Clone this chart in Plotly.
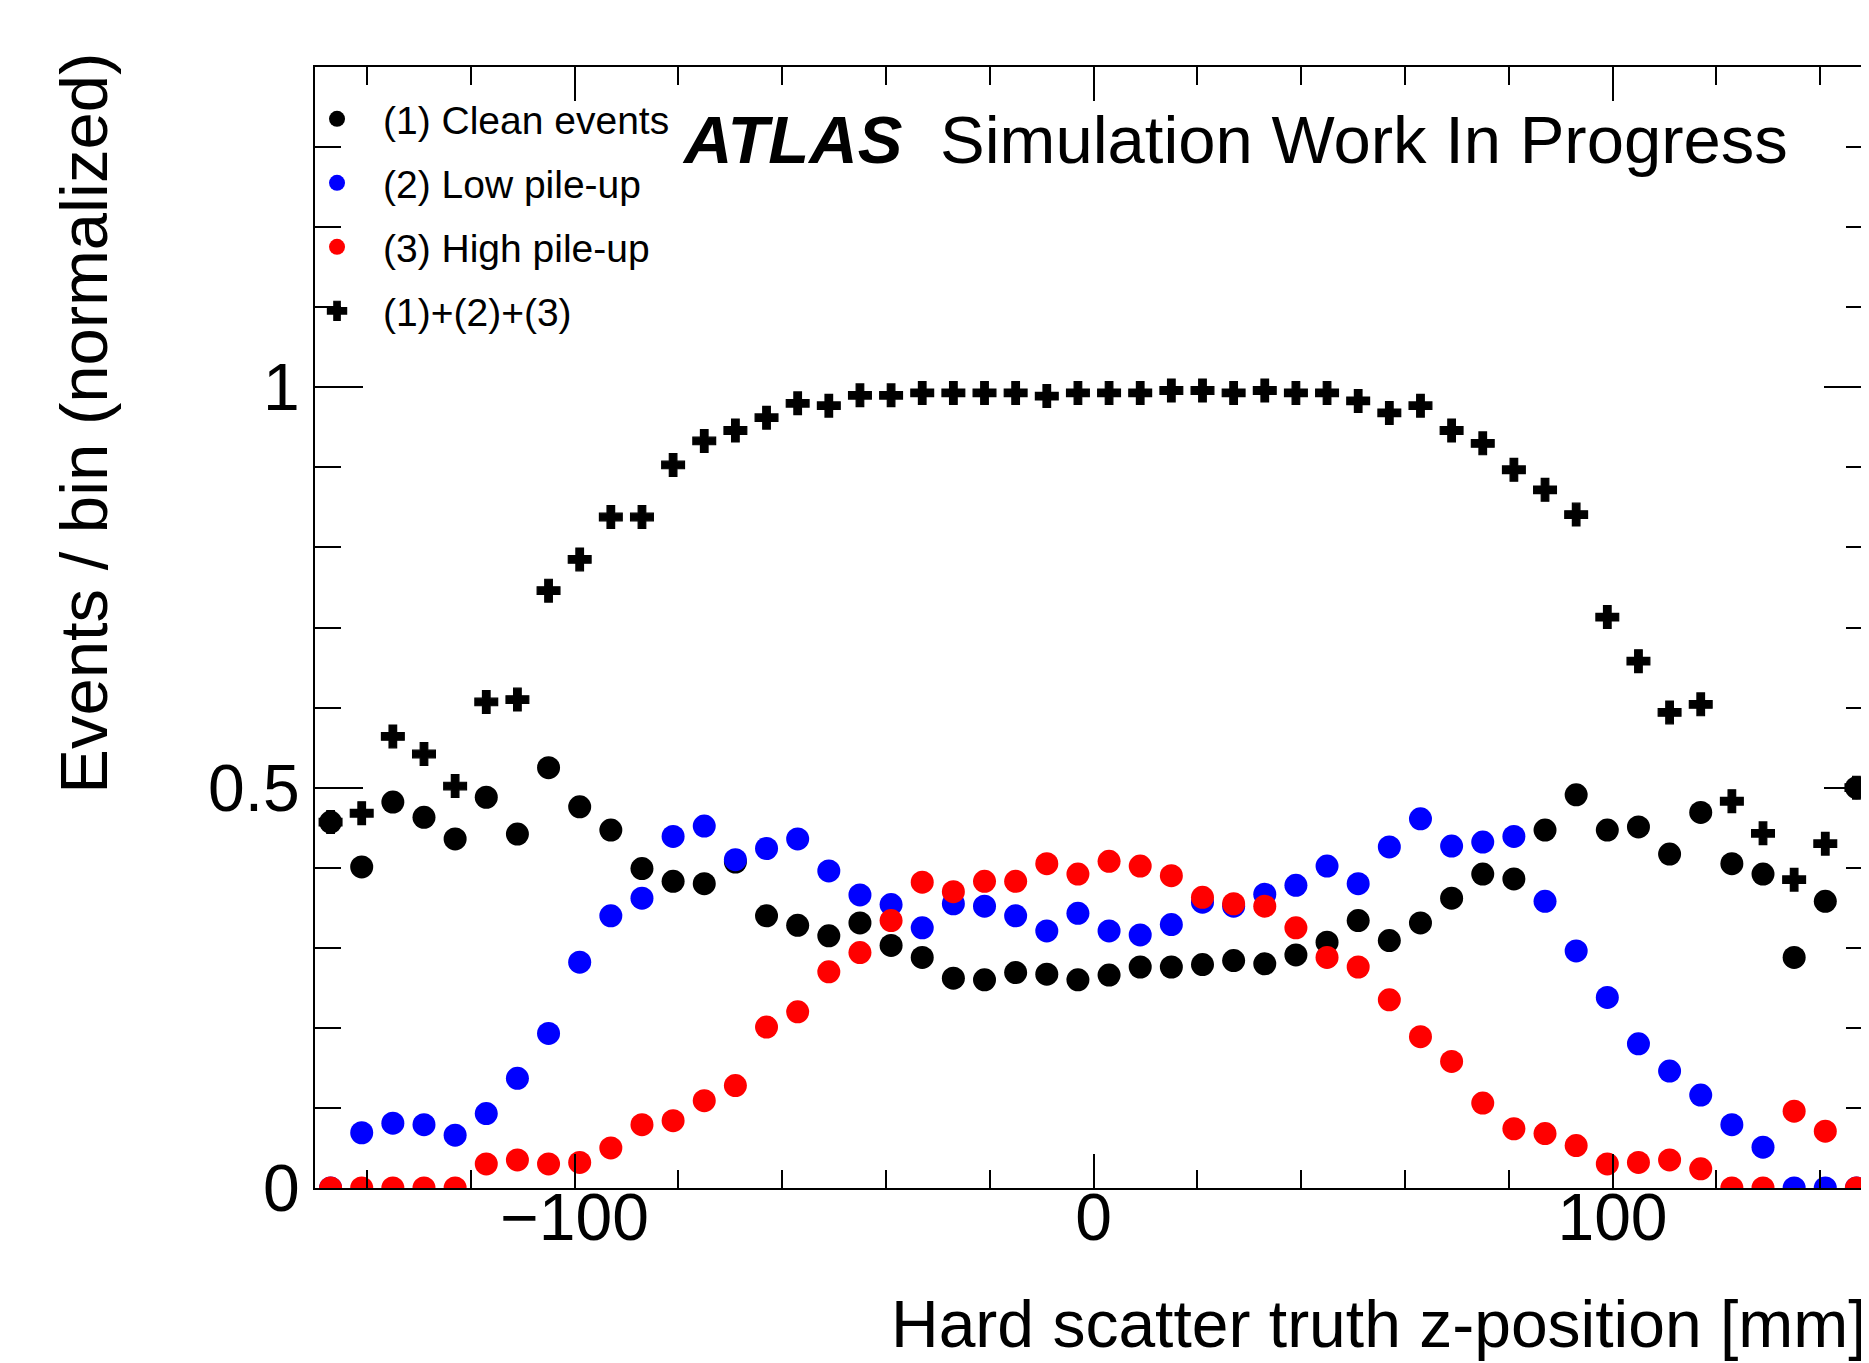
import plotly.graph_objects as go

# Bin centres of the hard-scatter truth z-position histogram [mm]
z_centres = [-147, -141, -135, -129, -123, -117, -111, -105, -99, -93,
             -87, -81, -75, -69, -63, -57, -51, -45, -39, -33,
             -27, -21, -15, -9, -3, 3, 9, 15, 21, 27,
             33, 39, 45, 51, 57, 63, 69, 75, 81, 87,
             93, 99, 105, 111, 117, 123, 129, 135, 141, 147]

clean_events = [0.457, 0.401, 0.482, 0.463, 0.436, 0.488, 0.442, 0.525, 0.476, 0.447,
                0.399, 0.383, 0.380, 0.407, 0.340, 0.328, 0.315, 0.331, 0.303, 0.288,
                0.262, 0.260, 0.269, 0.267, 0.260, 0.266, 0.276, 0.276, 0.279, 0.284,
                0.280, 0.291, 0.307, 0.334, 0.309, 0.331, 0.362, 0.392, 0.386, 0.447,
                0.491, 0.447, 0.451, 0.417, 0.469, 0.405, 0.392, 0.288, 0.358, 0.500]

low_pileup = [0.000, 0.069, 0.081, 0.079, 0.066, 0.093, 0.137, 0.193, 0.282, 0.340,
              0.362, 0.439, 0.452, 0.410, 0.424, 0.436, 0.396, 0.366, 0.354, 0.325,
              0.355, 0.352, 0.340, 0.321, 0.343, 0.321, 0.316, 0.329, 0.357, 0.352,
              0.367, 0.378, 0.402, 0.380, 0.426, 0.461, 0.427, 0.432, 0.439, 0.358,
              0.296, 0.238, 0.180, 0.146, 0.116, 0.079, 0.051, 0.000, 0.000, 0.000]

high_pileup = [0.000, 0.000, 0.000, 0.000, 0.000, 0.030, 0.035, 0.030, 0.032, 0.050,
               0.079, 0.084, 0.109, 0.128, 0.201, 0.220, 0.270, 0.294, 0.334, 0.382,
               0.370, 0.383, 0.383, 0.405, 0.392, 0.408, 0.402, 0.390, 0.363, 0.355,
               0.352, 0.325, 0.288, 0.276, 0.235, 0.189, 0.158, 0.106, 0.074, 0.068,
               0.053, 0.030, 0.032, 0.035, 0.024, 0.000, 0.000, 0.096, 0.071, 0.000]

combined = [0.457, 0.468, 0.564, 0.542, 0.502, 0.607, 0.610, 0.746, 0.785, 0.838,
            0.838, 0.903, 0.933, 0.946, 0.962, 0.980, 0.977, 0.990, 0.990, 0.993,
            0.993, 0.993, 0.993, 0.989, 0.993, 0.993, 0.993, 0.996, 0.996, 0.993,
            0.996, 0.993, 0.993, 0.983, 0.968, 0.977, 0.946, 0.930, 0.897, 0.872,
            0.841, 0.713, 0.658, 0.594, 0.604, 0.483, 0.443, 0.385, 0.430, 0.500]

series_names = ["(1) Clean events", "(2) Low pile-up", "(3) High pile-up", "(1)+(2)+(3)"]

FONT = "Liberation Sans, Arial, Helvetica, sans-serif"
W, H = 1869, 1363
L, R, T, B = 307, 3, 59, 183
PW, PH = W - L - R, H - T - B


def px_x(p):
    return (p - L) / PW


def px_y(p):
    return (H - B - p) / PH


fig = go.Figure()

fig.add_trace(go.Scatter(
    x=z_centres, y=combined, mode="markers", name=series_names[3],
    legendrank=4, legendgroup="d",
    marker=dict(symbol="cross", size=19, color="black", line=dict(color="black", width=1.2)),
))
fig.add_trace(go.Scatter(
    x=z_centres, y=clean_events, mode="markers", name=series_names[0],
    legendrank=1, legendgroup="a",
    marker=dict(symbol="circle", size=23, color="black", line=dict(width=0)),
))
fig.add_trace(go.Scatter(
    x=z_centres, y=low_pileup, mode="markers", name=series_names[1],
    legendrank=2, legendgroup="b",
    marker=dict(symbol="circle", size=23, color="#0000ff", line=dict(width=0)),
))
fig.add_trace(go.Scatter(
    x=z_centres, y=high_pileup, mode="markers", name=series_names[2],
    legendrank=3, legendgroup="c",
    marker=dict(symbol="circle", size=23, color="#ff0000", line=dict(width=0)),
))

axis_common = dict(
    showline=True, linecolor="black", linewidth=2, mirror="ticks",
    ticks="inside", tickcolor="black", tickwidth=2,
    showgrid=False, zeroline=False,
    tickfont=dict(family=FONT, size=66, color="black"),
)

fig.update_xaxes(
    range=[-150, 150], tick0=0, dtick=100, ticklen=34, ticklabelstandoff=-29,
    minor=dict(dtick=20, tick0=0, ticklen=18, ticks="inside", tickcolor="black", tickwidth=2, showgrid=False),
    **axis_common,
)
fig.update_yaxes(
    range=[0, 1.4], tick0=0, dtick=0.5, ticklen=48,
    minor=dict(dtick=0.1, tick0=0, ticklen=26, ticks="inside", tickcolor="black", tickwidth=2, showgrid=False),
    **axis_common,
)

fig.add_annotation(
    text="ATLAS", xref="paper", yref="paper", x=px_x(672), y=px_y(131),
    xanchor="left", yanchor="middle", showarrow=False,
    font=dict(family=FONT, size=67, color="black", weight="bold", style="italic"),
)
fig.add_annotation(
    text="Simulation Work In Progress", xref="paper", yref="paper", x=px_x(931), y=px_y(131),
    xanchor="left", yanchor="middle", showarrow=False,
    font=dict(family=FONT, size=67, color="black"),
)
fig.add_annotation(
    text="Events / bin (normalized)", xref="paper", yref="paper", x=px_x(75), y=px_y(43),
    xanchor="center", yanchor="top", textangle=-90, showarrow=False,
    font=dict(family=FONT, size=67, color="black"),
)
fig.add_annotation(
    text="Hard scatter truth z-position [mm]", xref="paper", yref="paper", x=px_x(1863), y=px_y(1316),
    xanchor="right", yanchor="middle", showarrow=False,
    font=dict(family=FONT, size=66, color="black"),
)

fig.update_layout(
    width=W, height=H,
    margin=dict(l=L, r=R, t=T, b=B, pad=0),
    paper_bgcolor="white", plot_bgcolor="white",
    font=dict(family=FONT, color="black"),
    showlegend=True,
    legend=dict(
        x=px_x(283), y=px_y(79), xanchor="left", yanchor="top",
        bgcolor="rgba(0,0,0,0)", borderwidth=0,
        font=dict(family=FONT, size=39, color="black"),
        traceorder="grouped", tracegroupgap=10.3, itemwidth=82,
    ),
)

fig.write_html("out.html")
